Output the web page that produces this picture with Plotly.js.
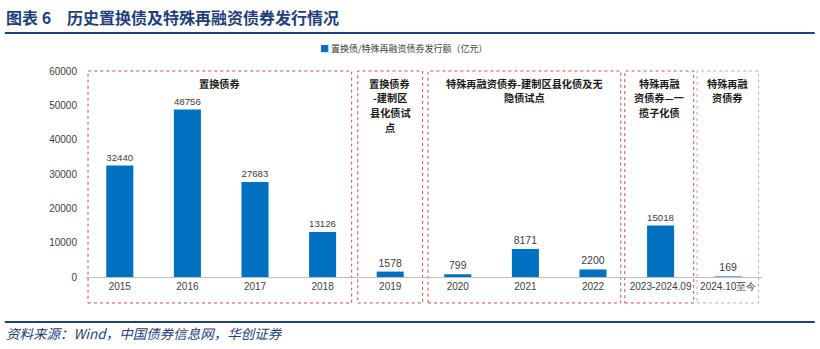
<!DOCTYPE html>
<html><head><meta charset="utf-8">
<script src="https://cdn.plot.ly/plotly-3.0.1.min.js"></script>
<style>body{margin:0;background:#fff}#c{width:820px;height:349px}</style>
</head><body><div id="c"></div>
<script>
const categories = ["2015","2016","2017","2018","2019","2020","2021","2022","2023-2024.09","2024.10至今"];
const values = [32440,48756,27683,13126,1578,799,8171,2200,15018,169];
const seriesName = "置换债/特殊再融资债券发行额（亿元）";
const groupLabels = [["置换债券"],["置换债券","-建制区","县化债试","点"],["特殊再融资债券-建制区县化债及无","隐债试点"],["特殊再融","资债券—一","揽子化债"],["特殊再融","资债券"]];
const groupStart = [-0.47,3.52,4.56,7.47,8.54];
const groupEnd = [3.43,4.48,7.41,8.49,9.45];
const groupColor = ["#c0504d","#c0504d","#c0504d","#c0504d","#b0b0b0"];

const plotH = 206;
const shapes = [];
const annotations = [];
for (let i=0;i<groupLabels.length;i++){
  shapes.push({type:'rect',xref:'x',yref:'paper',x0:groupStart[i],x1:groupEnd[i],y0:-0.126,y1:1.0,
    line:{color:groupColor[i],width:1,dash:'dot'},fillcolor:'rgba(0,0,0,0)',layer:'below'});
  groupLabels[i].forEach((ln,j)=>{
    annotations.push({xref:'x',yref:'paper',x:(groupStart[i]+groupEnd[i])/2,y:1-(12+14.8*j)/plotH,yanchor:'middle',xanchor:'center',
      text:'<b>'+ln+'</b>',showarrow:false,align:'center',height:13,borderpad:0,
      font:{family:'"Noto Sans CJK SC", sans-serif',size:10.2,color:'#1a1a1a'}});
  });
}
// header line and footer line
shapes.push({type:'line',xref:'paper',yref:'paper',x0:-0.12,x1:1.078,y0:1.184,y1:1.184,line:{color:'#1f3f78',width:2}});
shapes.push({type:'line',xref:'paper',yref:'paper',x0:-0.12,x1:1.078,y0:-0.218,y1:-0.218,line:{color:'#1f3f78',width:2}});
annotations.push({xref:'paper',yref:'paper',x:-0.122,y:1.262,xanchor:'left',yanchor:'middle',showarrow:false,
  text:'<b>图表 6　历史置换债及特殊再融资债券发行情况</b>',
  font:{family:'"Noto Sans CJK SC", sans-serif',size:16,color:'#1f3f78'}});
annotations.push({xref:'paper',yref:'paper',x:-0.122,y:-0.272,xanchor:'left',yanchor:'middle',showarrow:false,
  text:'<i>资料来源：Wind，中国债券信息网，华创证券</i>',
  font:{family:'"Noto Sans CJK SC", sans-serif',size:13.5,color:'#1f3f78'}});
// legend
annotations.push({xref:'paper',yref:'paper',x:(318-86)/676,y:1.11,xanchor:'left',yanchor:'middle',showarrow:false,
  text:'<span style="color:#0070c0">■</span> '+seriesName,
  font:{family:'"Noto Sans CJK SC", sans-serif',size:9,color:'#404040'}});

const trace = {type:'bar',x:categories,y:values,name:seriesName,marker:{color:'#0070c0'},width:0.4,
  text:values.map(String),textposition:'outside',cliponaxis:false,
  textfont:{family:'"Liberation Sans", Arial, sans-serif',size:10.5,color:'#404040'},showlegend:false};

const layout = {
  width:820,height:349,margin:{l:86,r:58,t:71,b:72},
  paper_bgcolor:'#fff',plot_bgcolor:'#fff',
  font:{family:'"Liberation Sans", Arial, sans-serif',color:'#404040'},
  showlegend:false,
  xaxis:{type:'category',showline:true,linecolor:'#bfbfbf',linewidth:1,ticks:'',showgrid:false,
    tickfont:{size:10,color:'#404040'},range:[-0.5,9.5]},
  yaxis:{range:[0,60000],dtick:10000,tickformat:'d',showgrid:false,zeroline:false,showline:false,ticks:'',
    tickfont:{size:10,color:'#404040'},ticklabelstandoff:8},
  shapes:shapes,annotations:annotations
};
Plotly.newPlot('c',[trace],layout,{displayModeBar:false,staticPlot:true});
</script></body></html>
